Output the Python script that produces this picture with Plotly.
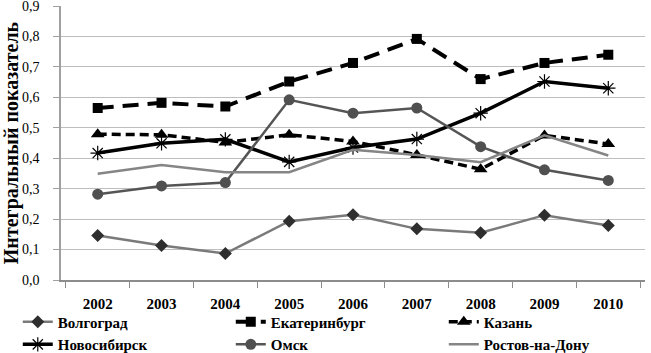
import plotly.graph_objects as go

years = ["2002", "2003", "2004", "2005", "2006", "2007", "2008", "2009", "2010"]
volgograd = [0.146, 0.113, 0.087, 0.193, 0.214, 0.168, 0.155, 0.213, 0.179]
ekaterinburg = [0.565, 0.582, 0.570, 0.652, 0.713, 0.792, 0.660, 0.713, 0.740]
kazan = [0.479, 0.477, 0.452, 0.477, 0.455, 0.411, 0.364, 0.475, 0.447]
novosibirsk = [0.417, 0.449, 0.462, 0.388, 0.435, 0.463, 0.548, 0.652, 0.630]
omsk = [0.282, 0.309, 0.320, 0.592, 0.548, 0.565, 0.438, 0.362, 0.327]
rostov = [0.349, 0.378, 0.354, 0.354, 0.428, 0.411, 0.387, 0.475, 0.409]
y_ticks = [0.0, 0.1, 0.2, 0.3, 0.4, 0.5, 0.6, 0.7, 0.8, 0.9]
y_tick_labels = ["0,0", "0,1", "0,2", "0,3", "0,4", "0,5", "0,6", "0,7", "0,8", "0,9"]
series_names = ["Волгоград", "Екатеринбург", "Казань", "Новосибирск", "Омск", "Ростов-на-Дону"]
y_title = "Интегральный показатель"

FONT = "Liberation Serif"


def b(s):
    return "<b>" + s + "</b>"


fig = go.Figure()
fig.add_trace(go.Scatter(x=years, y=volgograd, name=b(series_names[0]), mode="lines+markers",
                         line=dict(color="#7a7a7a", width=2.5),
                         marker=dict(symbol="diamond", size=10, color="#2e2e2e")))
fig.add_trace(go.Scatter(x=years, y=ekaterinburg, name=b(series_names[1]), mode="lines+markers",
                         line=dict(color="#000000", width=4, dash="16px,9px"),
                         marker=dict(symbol="square", size=10, color="#000000")))
fig.add_trace(go.Scatter(x=years, y=kazan, name=b(series_names[2]), mode="lines+markers",
                         line=dict(color="#000000", width=3.5, dash="9px,5px"),
                         marker=dict(symbol="triangle-up", size=12, color="#000000")))
fig.add_trace(go.Scatter(x=years, y=novosibirsk, name=b(series_names[3]), mode="lines+markers",
                         line=dict(color="#000000", width=3.5),
                         marker=dict(symbol="asterisk-open", size=12,
                                     line=dict(color="#000000", width=1.2))))
fig.add_trace(go.Scatter(x=years, y=omsk, name=b(series_names[4]), mode="lines+markers",
                         line=dict(color="#555555", width=2.5),
                         marker=dict(symbol="circle", size=11, color="#505050")))
fig.add_trace(go.Scatter(x=years, y=rostov, name=b(series_names[5]), mode="lines",
                         line=dict(color="#858585", width=2.5)))

fig.update_layout(
    width=651, height=353,
    margin=dict(l=61, r=6, t=6, b=73, autoexpand=False),
    paper_bgcolor="white", plot_bgcolor="white",
    font=dict(family=FONT, size=13, color="#000000"),
    legend=dict(orientation="h", x=-0.074, y=-0.0935, xanchor="left", yanchor="top",
                entrywidth=168, entrywidthmode="pixels", bgcolor="rgba(0,0,0,0)",
                font=dict(family=FONT, size=15, color="#000000"),
                tracegroupgap=0, itemwidth=30, traceorder="normal"),
    showlegend=True,
)
fig.update_xaxes(type="category", categoryarray=years, showgrid=False, automargin=False,
                 showline=True, linecolor="#8c8c8c", linewidth=1.5,
                 ticks="outside", tickson="boundaries", ticklen=6, tickcolor="#8c8c8c",
                 tickprefix="<b>", ticksuffix="</b>", ticklabelstandoff=9,
                 tickfont=dict(family=FONT, size=15, color="#000000"))
fig.update_yaxes(range=[0, 0.9001], tickvals=y_ticks, ticktext=y_tick_labels, automargin=False,
                 showgrid=True, gridcolor="#bdbdbd", gridwidth=1,
                 showline=True, linecolor="#a0a0a0", linewidth=1.5,
                 ticks="outside", ticklen=6, tickcolor="#a0a0a0",
                 tickprefix="<b>", ticksuffix="</b>", ticklabelstandoff=11,
                 ticklabeloverflow="allow", zeroline=False,
                 title=dict(text=b(y_title), standoff=0,
                            font=dict(family=FONT, size=20, color="#000000")),
                 tickfont=dict(family=FONT, size=14, color="#000000"))

fig.write_html("out.html", post_script="document.body.style.margin='0px';",
               config={"displayModeBar": False})
